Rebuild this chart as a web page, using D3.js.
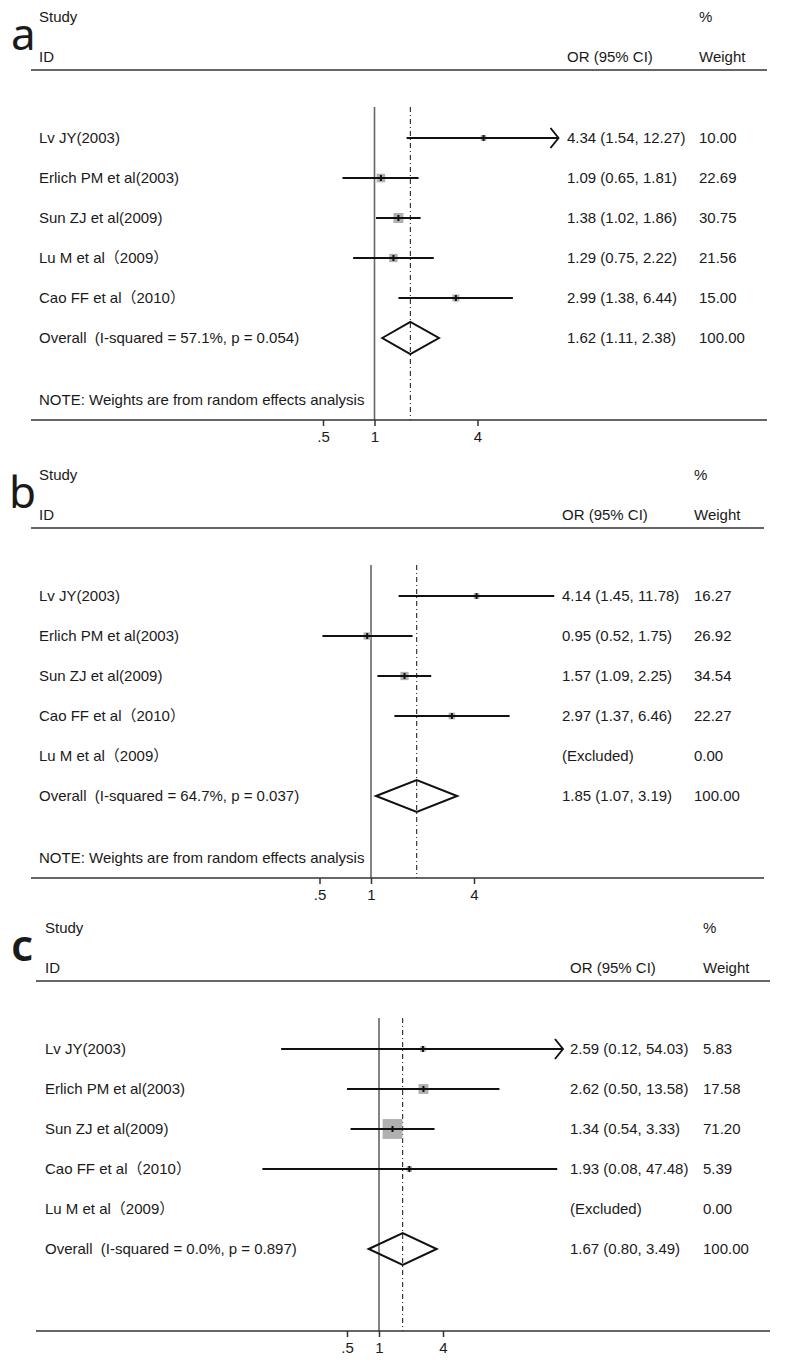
<!DOCTYPE html>
<html>
<head>
<meta charset="utf-8">
<script src="https://cdn.jsdelivr.net/npm/d3@7"></script>
<style>
  body { margin: 0; background: #fff; }
  text { font-family: "Liberation Sans", Arial, "Noto Sans CJK SC", sans-serif; fill: #1a1a1a; }
  .panel-letter { font-family: "Noto Sans", "DejaVu Sans", sans-serif; }
</style>
</head>
<body>
<svg id="viz"></svg>
<script>
/* data */
var studiesA = ["Lv JY(2003)", "Erlich PM et al(2003)", "Sun ZJ et al(2009)", "Lu M et al（2009）", "Cao FF et al（2010）"];
var orA = [4.34, 1.09, 1.38, 1.29, 2.99];
var loA = [1.54, 0.65, 1.02, 0.75, 1.38];
var hiA = [12.27, 1.81, 1.86, 2.22, 6.44];
var weightA = [10.00, 22.69, 30.75, 21.56, 15.00];
var overallA = { or: 1.62, lo: 1.11, hi: 2.38, i2: "57.1%", p: "0.054" };

var studiesB = ["Lv JY(2003)", "Erlich PM et al(2003)", "Sun ZJ et al(2009)", "Cao FF et al（2010）", "Lu M et al（2009）"];
var orB = [4.14, 0.95, 1.57, 2.97, null];
var loB = [1.45, 0.52, 1.09, 1.37, null];
var hiB = [11.78, 1.75, 2.25, 6.46, null];
var weightB = [16.27, 26.92, 34.54, 22.27, 0.00];
var overallB = { or: 1.85, lo: 1.07, hi: 3.19, i2: "64.7%", p: "0.037" };

var studiesC = ["Lv JY(2003)", "Erlich PM et al(2003)", "Sun ZJ et al(2009)", "Cao FF et al（2010）", "Lu M et al（2009）"];
var orC = [2.59, 2.62, 1.34, 1.93, null];
var loC = [0.12, 0.50, 0.54, 0.08, null];
var hiC = [54.03, 13.58, 3.33, 47.48, null];
var weightC = [5.83, 17.58, 71.20, 5.39, 0.00];
var overallC = { or: 1.67, lo: 0.80, hi: 3.49, i2: "0.0%", p: "0.897" };

var tickValues = [0.5, 1, 4];
var tickLabels = [".5", "1", "4"];
var noteText = "NOTE: Weights are from random effects analysis";

/* layout of each panel */
var panels = [
	{ letter: "a", y0: 0, left: 39, ruleX0: 31, ruleX1: 767, x1: 374.5, step: 51.5, boxK: 1.8, clip: 11.9,
	  orX: 567, wX: 699, note: true,
	  studies: studiesA, or: orA, lo: loA, hi: hiA, weight: weightA, overall: overallA },
	{ letter: "b", y0: 458, left: 39, ruleX0: 31, ruleX1: 764, x1: 371, step: 51.5, boxK: 1.4, clip: 11.9,
	  orX: 562, wX: 694, note: true,
	  studies: studiesB, or: orB, lo: loB, hi: hiB, weight: weightB, overall: overallB },
	{ letter: "c", y0: 911, left: 45, ruleX0: 36, ruleX1: 770, x1: 379, step: 32, boxK: 2.35, clip: 53.8,
	  orX: 570, wX: 703, note: false,
	  studies: studiesC, or: orC, lo: loC, hi: hiC, weight: weightC, overall: overallC }
];

var width = 785, height = 1366;
var rowGap = 40;
var fmt = d3.format(".2f");

var svg = d3.select('#viz')
		.attr('width', width)
		.attr('height', height);

var ciText = function(or, lo, hi){
	return fmt(or) + " (" + fmt(lo) + ", " + fmt(hi) + ")";
}

var drawPanel = function(p){
	var g = svg.append('g')
		.attr('transform', 'translate(0,' + p.y0 + ')');

	var x = d3.scaleLog().base(2)
		.domain([0.5, 4])
		.range([p.x1 - p.step, p.x1 + 2 * p.step]);

	var firstRow = 138;
	var rowY = function(i){ return firstRow + i * rowGap; };
	var nRows = p.studies.length;
	var overallY = rowY(nRows);
	var axisY = 420;
	var lineTop = firstRow - 31;

	/* panel letter */
	g.append("text")
		.attr("class", "panel-letter")
		.attr("x", p.letter == "b" ? 9 : 11)
		.attr("y", 50)
		.style("font-size", "44px")
		.style("font-weight", p.letter == "c" ? 600 : 400)
		.text(p.letter);

	/* headers */
	var hdr = [
		{ t: "Study", x: p.left, y: 22 },
		{ t: "ID", x: p.left, y: 62 },
		{ t: "%", x: p.wX, y: 22 },
		{ t: "OR (95% CI)", x: p.orX, y: 62 },
		{ t: "Weight", x: p.wX, y: 62 }
	];
	g.selectAll(".hdr").data(hdr).enter().append("text")
		.attr("x", function(d){ return d.x; })
		.attr("y", function(d){ return d.y; })
		.style("font-size", "15px")
		.text(function(d){ return d.t; });

	g.append("line")
		.attr("x1", p.ruleX0).attr("x2", p.ruleX1)
		.attr("y1", 70).attr("y2", 70)
		.attr("stroke", "#333").attr("stroke-width", 1.5);

	/* reference line at 1 and overall dash-dot line */
	g.append("line")
		.attr("x1", x(1)).attr("x2", x(1))
		.attr("y1", lineTop).attr("y2", axisY)
		.attr("stroke", "#666").attr("stroke-width", 1.6);

	g.append("line")
		.attr("x1", x(p.overall.or)).attr("x2", x(p.overall.or))
		.attr("y1", lineTop).attr("y2", axisY)
		.attr("stroke", "#111").attr("stroke-width", 1)
		.attr("stroke-dasharray", "5,3,1,3");

	/* study rows */
	var rows = p.studies.map(function(s, i){
		return { name: s, or: p.or[i], lo: p.lo[i], hi: p.hi[i], w: p.weight[i], y: rowY(i) };
	});

	var rg = g.selectAll(".row").data(rows).enter().append("g")
		.attr("transform", function(d){ return "translate(0," + d.y + ")"; });

	rg.append("text")
		.attr("x", p.left).attr("dy", "0.35em")
		.style("font-size", "15px")
		.text(function(d){ return d.name; });

	rg.append("text")
		.attr("x", p.orX).attr("dy", "0.35em")
		.style("font-size", "15px")
		.text(function(d){ return d.or == null ? "(Excluded)" : ciText(d.or, d.lo, d.hi); });

	rg.append("text")
		.attr("x", p.wX).attr("dy", "0.35em")
		.style("font-size", "15px")
		.text(function(d){ return fmt(d.w); });

	var est = rg.filter(function(d){ return d.or != null; });

	est.append("rect")
		.attr("x", function(d){ return x(d.or) - p.boxK * Math.sqrt(d.w) / 2; })
		.attr("y", function(d){ return -p.boxK * Math.sqrt(d.w) / 2; })
		.attr("width", function(d){ return p.boxK * Math.sqrt(d.w); })
		.attr("height", function(d){ return p.boxK * Math.sqrt(d.w); })
		.attr("fill", "#b0b0b0");

	est.append("line")
		.attr("x1", function(d){ return x(d.lo); })
		.attr("x2", function(d){ return x(Math.min(d.hi, p.clip)); })
		.attr("stroke", "#111").attr("stroke-width", 1.9);

	est.append("line")
		.attr("x1", function(d){ return x(d.or); })
		.attr("x2", function(d){ return x(d.or); })
		.attr("y1", -3).attr("y2", 3)
		.attr("stroke", "#111").attr("stroke-width", 2);

	est.filter(function(d){ return d.hi > p.clip; })
		.append("path")
		.attr("d", function(d){
			var tx = x(p.clip);
			return "M" + (tx - 8) + ",-10L" + tx + ",0L" + (tx - 8) + ",10";
		})
		.attr("fill", "none").attr("stroke", "#111").attr("stroke-width", 1.9);

	/* overall row */
	var o = p.overall;
	g.append("text")
		.attr("x", p.left).attr("y", overallY).attr("dy", "0.35em")
		.style("font-size", "15px")
		.style("white-space", "pre")
		.text("Overall  (I-squared = " + o.i2 + ", p = " + o.p + ")");

	g.append("text")
		.attr("x", p.orX).attr("y", overallY).attr("dy", "0.35em")
		.style("font-size", "15px")
		.text(ciText(o.or, o.lo, o.hi));

	g.append("text")
		.attr("x", p.wX).attr("y", overallY).attr("dy", "0.35em")
		.style("font-size", "15px")
		.text(fmt(100));

	g.append("path")
		.attr("d", "M" + x(o.lo) + "," + overallY +
			"L" + x(o.or) + "," + (overallY - 16) +
			"L" + x(o.hi) + "," + overallY +
			"L" + x(o.or) + "," + (overallY + 16) + "Z")
		.attr("fill", "none").attr("stroke", "#111").attr("stroke-width", 2);

	if (p.note) {
		g.append("text")
			.attr("x", p.left).attr("y", 400).attr("dy", "0.35em")
			.style("font-size", "15px")
			.text(noteText);
	}

	/* x axis */
	g.append("line")
		.attr("x1", p.ruleX0).attr("x2", p.ruleX1)
		.attr("y1", axisY).attr("y2", axisY)
		.attr("stroke", "#333").attr("stroke-width", 1.5);

	var xAxis = d3.axisBottom(x)
		.tickValues(tickValues)
		.tickFormat(function(d, i){ return tickLabels[i]; })
		.tickSize(6)
		.tickPadding(5);

	var ax = g.append("g")
		.attr("transform", "translate(0," + axisY + ")")
		.call(xAxis);
	ax.select(".domain").remove();
	ax.selectAll(".tick line").attr("stroke", "#333").attr("stroke-width", 1.5);
	ax.selectAll(".tick text")
		.style("font-size", "15px")
		.style("font-family", '"Liberation Sans", Arial, sans-serif')
		.attr("fill", "#1a1a1a");
}

panels.forEach(drawPanel);
</script>
</body>
</html>
